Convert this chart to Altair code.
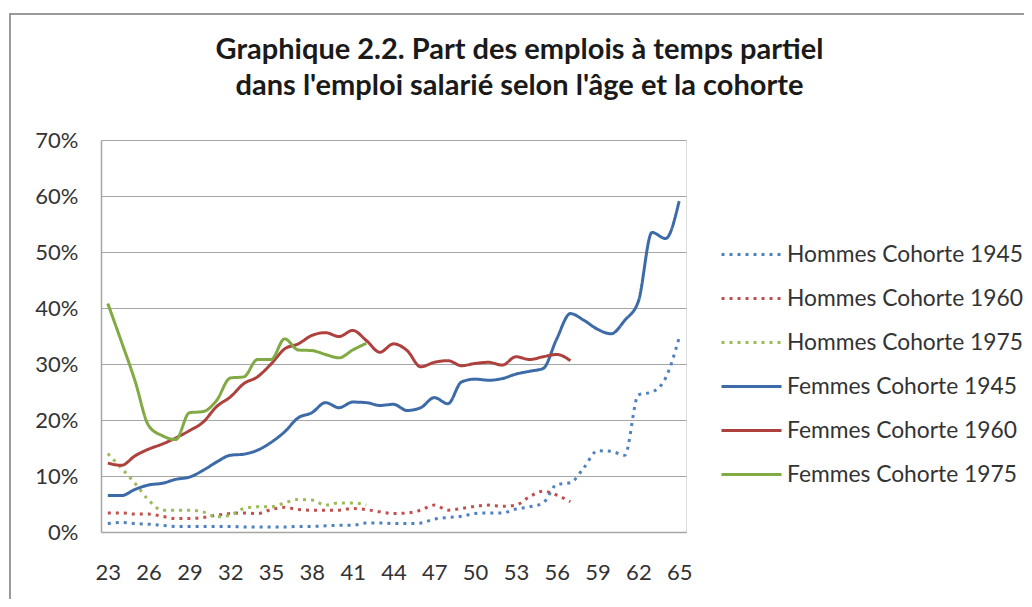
import altair as alt
import pandas as pd

ages = list(range(23, 66))

series_names = [
    "Hommes Cohorte 1945",
    "Hommes Cohorte 1960",
    "Hommes Cohorte 1975",
    "Femmes Cohorte 1945",
    "Femmes Cohorte 1960",
    "Femmes Cohorte 1975",
]

hommes_1945 = [1.5, 1.7, 1.5, 1.4, 1.2, 1.0, 1.0, 1.0, 1.0, 1.0, 0.9, 0.9, 0.9, 0.9, 1.0,
               1.0, 1.1, 1.2, 1.2, 1.6, 1.6, 1.5, 1.5, 1.6, 2.3, 2.6, 2.8, 3.3, 3.4, 3.4,
               4.1, 4.5, 5.2, 8.5, 8.8, 11.5, 14.5, 14.4, 13.7, 24.5, 25.0, 27.5, 34.7]
hommes_1960 = [3.4, 3.4, 3.2, 3.2, 2.8, 2.4, 2.4, 2.6, 3.0, 3.3, 3.4, 3.3, 4.0, 4.4, 4.0,
               3.9, 3.9, 3.9, 4.2, 4.0, 3.6, 3.3, 3.4, 3.9, 4.8, 3.9, 4.2, 4.6, 4.8, 4.6,
               4.8, 6.3, 7.3, 6.6, 5.4]
hommes_1975 = [14.0, 11.4, 8.7, 5.7, 3.9, 3.9, 3.9, 3.6, 2.7, 3.0, 4.2, 4.5, 4.5, 5.2, 5.8,
               5.7, 4.8, 5.2, 5.2, 4.8]
femmes_1945 = [6.5, 6.5, 7.6, 8.4, 8.7, 9.4, 9.8, 11.0, 12.5, 13.7, 13.9, 14.6, 16.0, 17.9,
               20.4, 21.3, 23.1, 22.2, 23.2, 23.1, 22.6, 22.8, 21.7, 22.2, 24.0, 22.9, 26.8,
               27.3, 27.1, 27.4, 28.2, 28.7, 29.2, 34.5, 39.0, 37.8, 36.2, 35.4, 37.8, 41.2,
               53.5, 52.4, 59.1]
femmes_1960 = [12.3, 11.9, 13.6, 14.8, 15.7, 16.8, 18.1, 19.6, 22.4, 24.1, 26.5, 27.7, 30.0,
               32.7, 33.6, 35.1, 35.6, 34.9, 36.0, 34.2, 32.1, 33.6, 32.4, 29.5, 30.3, 30.6,
               29.7, 30.1, 30.3, 29.8, 31.3, 30.8, 31.3, 31.7, 30.6]
femmes_1975 = [40.8, 34.0, 27.0, 19.0, 17.2, 16.5, 21.3, 21.5, 23.5, 27.5, 27.7, 30.8, 30.8,
               34.5, 32.5, 32.4, 31.7, 31.1, 32.5, 33.7]

series_values = [hommes_1945, hommes_1960, hommes_1975, femmes_1945, femmes_1960, femmes_1975]

x_tick_labels = list(range(23, 66, 3))
y_tick_values = [0, 0.1, 0.2, 0.3, 0.4, 0.5, 0.6, 0.7]

title_lines = ["Graphique 2.2. Part des emplois à temps partiel",
               "dans l'emploi salarié selon l'âge et la cohorte"]

rows = []
for name, vals in zip(series_names, series_values):
    for a, v in zip(ages, vals):
        rows.append({"age": a, "serie": name, "part": v / 100.0})
df = pd.DataFrame(rows)

colors = ["#4F81BD", "#C0504D", "#9BBB59", "#3D6BA8", "#AE413D", "#82AA44"]
dashes = [[3, 5], [3, 5], [3, 5], [1, 0], [1, 0], [1, 0]]
widths = [3, 3, 3, 4.5, 4.5, 4.5]

FONT = "Lato"
legend = alt.Legend(
    title=None, orient="none", legendX=619, legendY=83,
    symbolType="stroke", symbolSize=3600, labelFont=FONT, labelFontSize=22.8,
    labelColor="#333333", labelOffset=4, rowPadding=-13.8, padding=0,
    labelLimit=400,
)

lines = alt.Chart(df).mark_line(interpolate="monotone").encode(
    x=alt.X("age:Q",
            scale=alt.Scale(domain=[22.5, 65.5], nice=False, zero=False),
            axis=alt.Axis(values=x_tick_labels, title=None, grid=False, ticks=False,
                          labelPadding=30, domainColor="#a6a6a6", domainWidth=1.5,
                          labelFont=FONT, labelFontSize=22, labelColor="#333333")),
    y=alt.Y("part:Q",
            scale=alt.Scale(domain=[0, 0.7], nice=False),
            axis=alt.Axis(values=y_tick_values, format=".0%", title=None, ticks=False,
                          labelPadding=23, domainColor="#a6a6a6", domainWidth=1.5,
                          gridColor="#a6a6a6", gridWidth=1,
                          labelFont=FONT, labelFontSize=22, labelColor="#333333")),
    color=alt.Color("serie:N", scale=alt.Scale(domain=series_names, range=colors),
                    legend=legend),
    strokeDash=alt.StrokeDash("serie:N", scale=alt.Scale(domain=series_names, range=dashes),
                              legend=legend),
    strokeWidth=alt.StrokeWidth("serie:N", scale=alt.Scale(domain=series_names, range=widths),
                                legend=legend),
    order=alt.Order("age:Q"),
)

frame = alt.Chart(pd.DataFrame({"k": [0]})).mark_rect(
    fill="transparent", stroke="#9a9a9a", strokeWidth=2
).encode(
    x=alt.value(-91), x2=alt.value(1100), y=alt.value(-126), y2=alt.value(800)
)

chart = alt.layer(frame, lines).properties(
    width=585, height=392,
    padding={"left": 93, "top": 132, "right": 338, "bottom": 67},
    autosize="none",
    title=alt.TitleParams(text=title_lines, font=FONT, fontSize=29, fontWeight="bold",
                          color="#1a1a1a", anchor="middle", dx=126, offset=-117,
                          baseline="bottom", lineHeight=36),
).configure_view(stroke=None).configure(background="white")

chart.save("out.html", embed_options={"renderer": "svg", "actions": False})
